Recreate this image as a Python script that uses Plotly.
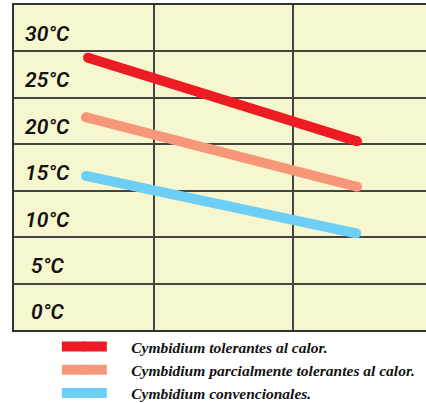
import plotly.graph_objects as go

# Data
series_names = [
    "Cymbidium tolerantes al calor.",
    "Cymbidium parcialmente tolerantes al calor.",
    "Cymbidium convencionales.",
]
x_red = [0.53, 2.456]
x_pink = [0.515, 2.456]
x_blue = [0.515, 2.45]
temp_red = [26.83, 17.82]
temp_pink = [20.41, 12.93]
temp_blue = [14.09, 7.91]
tick_values = [30, 25, 20, 15, 10, 5, 0]
tick_labels = ["30°C", "25°C", "20°C", "15°C", "10°C", "5°C", "0°C"]

colors = ["#ED1C24", "#F7977A", "#6DCFF6"]
xs = [x_red, x_pink, x_blue]
ys = [temp_red, temp_pink, temp_blue]

PAD = "\u00a0" * 5

fig = go.Figure()
for name, x, y, c in zip(series_names, xs, ys, colors):
    fig.add_trace(go.Scatter(
        x=x, y=y, name=PAD + name, mode="lines+markers",
        line=dict(color=c, width=10),
        marker=dict(color=c, size=10),
    ))

for v, t in zip(tick_values, tick_labels):
    fig.add_annotation(
        x=0.243, y=v - 0.6, xref="x", yref="y", text=t, showarrow=False,
        xanchor="center", yanchor="middle",
        font=dict(family="Roboto", size=21, color="#111", style="italic", weight=600),
    )

fig.update_layout(
    width=426, height=403,
    margin=dict(l=14, r=0, t=5, b=73, autoexpand=False),
    paper_bgcolor="white",
    plot_bgcolor="#F6F6CF",
    showlegend=True,
    legend=dict(
        x=0.104, y=0.0, xanchor="left", yanchor="top",
        bgcolor="rgba(0,0,0,0)",
        font=dict(family="Liberation Serif", size=15.5, color="#111",
                  style="italic", weight="bold"),
        itemwidth=45,
    ),
    xaxis=dict(
        range=[0, 2.95], tick0=0, dtick=1, showgrid=True, gridcolor="#444", gridwidth=1.5,
        showticklabels=False, ticks="", zeroline=False,
        showline=True, linecolor="#333", linewidth=2, mirror=True,
        fixedrange=True,
    ),
    yaxis=dict(
        range=[-2.5, 32.5], tick0=2.5, dtick=5, showgrid=True, gridcolor="#444", gridwidth=1.5,
        showticklabels=False, ticks="", zeroline=False,
        showline=True, linecolor="#333", linewidth=2, mirror=False,
        fixedrange=True,
    ),
)

fig.write_html("out.html", config={"displayModeBar": False},
               post_script="document.body.style.margin='0';")
